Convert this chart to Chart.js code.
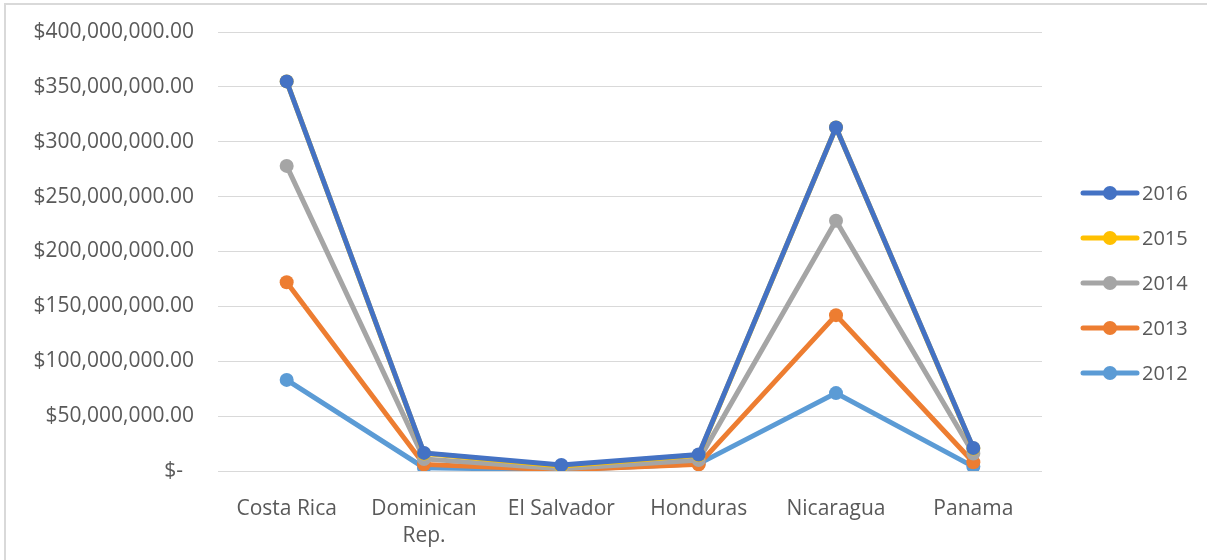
<!DOCTYPE html>
<html>
<head>
<meta charset="utf-8">
<script src="https://cdn.jsdelivr.net/npm/chart.js@4"></script>
<style>
  html, body { margin: 0; padding: 0; background: #fff; overflow: hidden; }
  #frame {
    position: absolute; left: 4px; top: 3px;
    width: 1220px; height: 570px;
    border-left: 2px solid #d9d9d9; border-top: 2px solid #d9d9d9;
  }
  #wrap { position: absolute; left: 0; top: 0; width: 1201px; height: 555px; }
</style>
</head>
<body>
<div id="frame"><div id="wrap"><canvas id="chart"></canvas></div></div>
<script>
// categories and values (USD)
const countries = ['Costa Rica', ['Dominican', 'Rep.'], 'El Salvador', 'Honduras', 'Nicaragua', 'Panama'];
const years = ['2016', '2015', '2014', '2013', '2012'];
const v2016 = [355000000, 16500000, 5500000, 15000000, 313000000, 21000000];
const v2015 = [355000000, 16000000, 4500000, 14500000, 313000000, 20500000];
const v2014 = [278000000, 11000000, 2000000, 10000000, 228000000, 16000000];
const v2013 = [172000000, 6000000, 1000000, 6000000, 142000000, 8000000];
const v2012 = [83000000, 3000000, 1000000, 6500000, 71000000, 4000000];
const yTicks = [0, 50000000, 100000000, 150000000, 200000000, 250000000, 300000000, 350000000, 400000000];

const colors = ['#4472C4', '#FFC000', '#A5A5A5', '#ED7D31', '#5B9BD5'];
const series = [v2016, v2015, v2014, v2013, v2012];
const FONT = '"Open Sans", sans-serif';

function money(v) {
    if (v === 0) return '$-  ';
    return '$' + v.toLocaleString('en-US', { minimumFractionDigits: 2, maximumFractionDigits: 2 });
}

// legend on the right: line with a dot, like the spreadsheet one
const sideLegend = {
    id: 'sideLegend',
    afterDraw(chart) {
        const ctx = chart.ctx;
        ctx.save();
        chart.data.datasets.forEach((ds, i) => {
            const y = 188 + i * 45;
            ctx.strokeStyle = ds.borderColor;
            ctx.lineWidth = 5;
            ctx.lineCap = 'round';
            ctx.beginPath();
            ctx.moveTo(1077, y);
            ctx.lineTo(1131, y);
            ctx.stroke();
            ctx.fillStyle = ds.borderColor;
            ctx.beginPath();
            ctx.arc(1104, y, 7, 0, Math.PI * 2);
            ctx.fill();
            ctx.fillStyle = '#595959';
            ctx.font = '20px ' + FONT;
            ctx.textBaseline = 'middle';
            ctx.fillText(ds.label, 1136, y + 1);
        });
        ctx.restore();
    }
};

new Chart(document.getElementById('chart'), {
    type: 'line',
    data: {
        labels: countries,
        datasets: years.map((y, i) => ({
            label: y,
            data: series[i],
            borderColor: colors[i],
            backgroundColor: colors[i],
            borderWidth: 5,
            pointRadius: 7,
            pointBorderWidth: 0,
            tension: 0
        }))
    },
    options: {
        responsive: true,
        maintainAspectRatio: false,
        animation: false,
        layout: { padding: { top: 27, right: 165, left: 0, bottom: 0 } },
        plugins: { legend: { display: false }, tooltip: { enabled: false } },
        scales: {
            x: {
                offset: true,
                grid: { display: false },
                border: { display: false },
                ticks: {
                    color: '#595959', padding: 16, maxRotation: 0, autoSkip: false,
                    font: { family: FONT, size: 21, lineHeight: 1.3 }
                },
                afterFit(s) { s.height = 89; }
            },
            y: {
                min: 0, max: 400000000,
                afterBuildTicks(s) { s.ticks = yTicks.map(v => ({ value: v })); },
                grid: { color: '#d9d9d9', lineWidth: 1, drawTicks: false },
                border: { display: false },
                ticks: {
                    color: '#595959', padding: 24,
                    font: { family: FONT, size: 21 },
                    callback: v => money(v)
                },
                afterFit(s) { s.width = 212; s.paddingTop = 0; }
            }
        }
    },
    plugins: [sideLegend]
});
</script>
</body>
</html>
